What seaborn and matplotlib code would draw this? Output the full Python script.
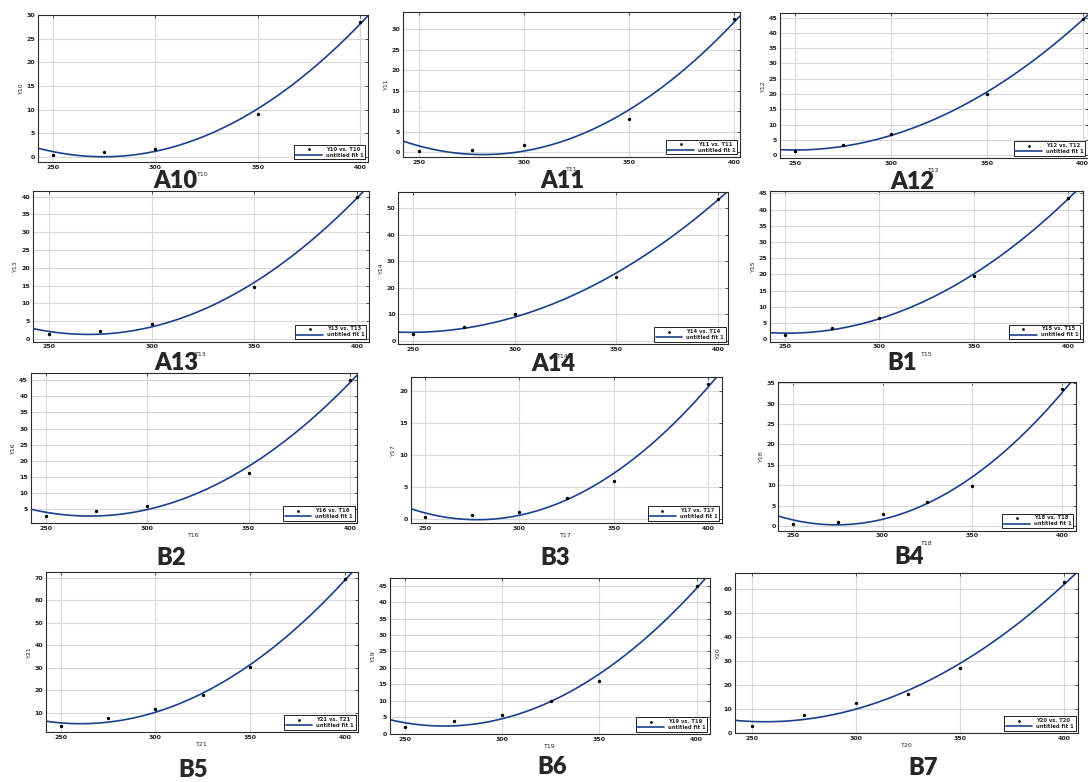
import numpy as np
import matplotlib
matplotlib.use('Agg')
import matplotlib.pyplot as plt
import seaborn as sns

# temperaturen (x) en meetwaarden (y) per paneel
T_five = [250, 275, 300, 350, 400]
T_six = [250, 275, 300, 325, 350, 400]

Y10 = [0.3, 1.0, 1.7, 9.0, 28.5]
Y11 = [0.3, 0.6, 1.7, 8.2, 32.5]
Y12 = [1.3, 3.4, 6.8, 20.0, 44.5]
Y13 = [1.3, 2.3, 4.1, 14.6, 40.0]
Y14 = [2.5, 5.2, 10.2, 24.0, 53.5]
Y15 = [1.5, 3.5, 6.7, 19.5, 43.5]
Y16 = [2.8, 4.4, 6.1, 16.2, 45.0]
Y17 = [0.4, 0.6, 1.1, 3.3, 6.0, 21.0]
Y18 = [0.5, 1.1, 3.0, 6.0, 9.7, 33.5]
Y21 = [4.2, 7.8, 11.6, 17.8, 30.2, 69.5]
Y19 = [2.0, 3.8, 5.8, 9.8, 16.0, 45.0]
Y20 = [2.8, 7.5, 12.5, 16.0, 27.0, 63.0]

panel_names = ['A10', 'A11', 'A12', 'A13', 'A14', 'B1', 'B2', 'B3', 'B4', 'B5', 'B6', 'B7']
series_ids = [10, 11, 12, 13, 14, 15, 16, 17, 18, 21, 19, 20]
series_t = [T_five] * 7 + [T_six] * 5
series_y = [Y10, Y11, Y12, Y13, Y14, Y15, Y16, Y17, Y18, Y21, Y19, Y20]

# layout in pixels: (left, top, right, bottom), limits, tick step, big label position
W, H = 1088, 782
layout = [
    ((38, 15, 368, 162), (242.7, 403.9), (-1.1, 30), (0, 30, 5), (175, 181)),
    ((403, 12.3, 740, 157), (242.2, 402.9), (-1.2, 34.2), (0, 30, 5), (562, 181)),
    ((780, 13.3, 1088, 158.3), (242.2, 402.8), (-1.0, 46.4), (0, 45, 5), (912, 182)),
    ((32.7, 191, 369, 341.7), (242, 406), (-0.76, 41.6), (0, 40, 5), (176, 363)),
    ((398.3, 192.3, 728.3, 344.3), (242.6, 405.2), (-1.3, 55.9), (0, 50, 10), (553, 364)),
    ((770, 191, 1082.7, 341.7), (242, 407.7), (-0.7, 45.7), (0, 45, 5), (902, 363)),
    ((30.7, 372.7, 357.3, 523.3), (242.6, 403.6), (0.67, 47.3), (5, 45, 5), (171, 558)),
    ((410.7, 377.3, 721.7, 523.3), (242.4, 407.1), (-0.62, 22.1), (0, 20, 5), (555, 558)),
    ((778.3, 381.7, 1076, 530.7), (242, 407.7), (-1.15, 35.4), (0, 35, 5), (909, 557)),
    ((45.7, 572.3, 358.3, 732.3), (242.1, 407.1), (1.45, 72.4), (10, 70, 10), (193, 770)),
    ((390, 578.3, 710, 734.3), (242.3, 406.9), (-0.2, 47.25), (0, 45, 5), (552, 767)),
    ((735, 573.3, 1078.3, 733.3), (242, 406.7), (-0.25, 66.6), (0, 60, 10), (923, 768)),
]

sns.set_style('whitegrid', {'axes.edgecolor': '#2b2b2b', 'grid.color': '#d9d9d9'})
plt.rcParams['font.family'] = ['DejaVu Sans']
plt.rcParams['font.weight'] = 'bold'

fig = plt.figure(figsize=(W / 100, H / 100), dpi=100)
fig.patch.set_facecolor('white')

curve_color = '#1b3f8f'

for name, sid, T, Y, lay in zip(panel_names, series_ids, series_t, series_y, layout):
    (l, t, r, b), xlim, ylim, (y0, y1, ys), (lx, ly) = lay
    ax = fig.add_axes([l / W, 1 - b / H, (r - l) / W, (b - t) / H])
    ax.set_xlim(xlim)
    sns.scatterplot(x=T, y=Y, ax=ax, color='black', s=6, linewidth=0,
                    label='Y%d vs. T%d' % (sid, sid), zorder=3)
    # kwadratische fit ("untitled fit 1")
    sns.regplot(x=np.array(T, dtype=float), y=np.array(Y, dtype=float), ax=ax,
                order=2, ci=None, scatter=False, truncate=False,
                label='untitled fit 1', line_kws=dict(color=curve_color, lw=1.2))
    ax.set_xlim(xlim)
    ax.set_ylim(ylim)
    ax.set_xticks([250, 300, 350, 400])
    ax.set_yticks(np.arange(y0, y1 + 0.1, ys))
    ax.grid(True, color='#d9d9d9', lw=0.8)
    for s in ax.spines.values():
        s.set_linewidth(0.8)
        s.set_color('#2b2b2b')
    ax.tick_params(direction='in', length=2, width=0.5, labelsize=4.5,
                   top=True, right=True, pad=2, colors='#222222')
    ax.set_xlabel('T%d' % sid, fontsize=4.5, labelpad=1.5)
    ax.set_ylabel('Y%d' % sid, fontsize=4.5, labelpad=2)
    leg = ax.legend(loc='lower right', fontsize=3.8, frameon=True, fancybox=False,
                    edgecolor='black', framealpha=1, borderpad=0.3,
                    handlelength=5, labelspacing=0.2, markerscale=0.8)
    leg.get_frame().set_linewidth(0.6)
    fig.text(lx / W, 1 - ly / H, name, ha='center', va='center',
             fontsize=17, fontweight='heavy', family=['Lato', 'DejaVu Sans'])

fig.savefig('out.png', dpi=100, facecolor='white')
